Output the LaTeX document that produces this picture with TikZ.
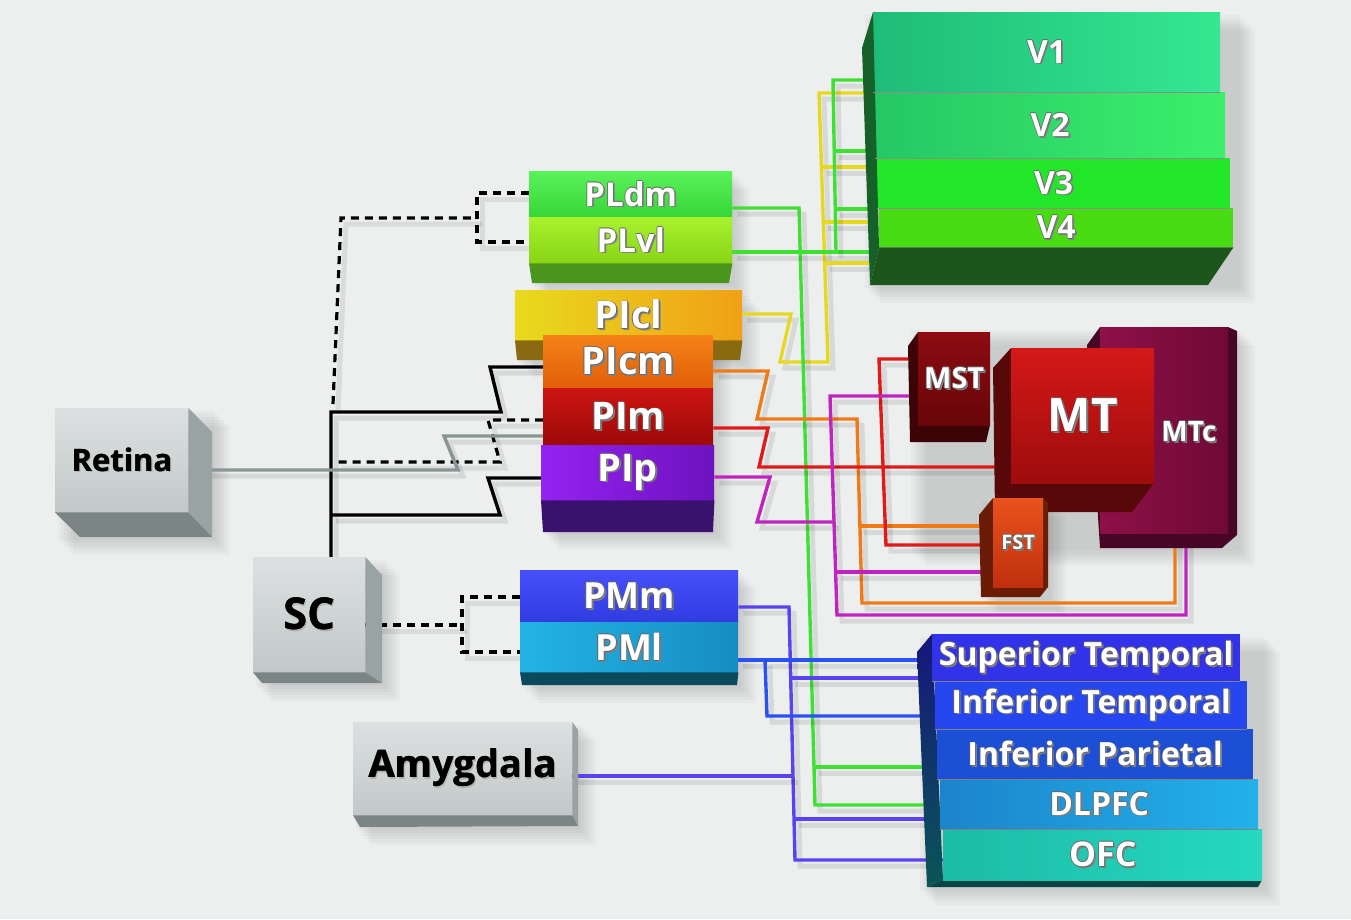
\documentclass[tikz,border=0pt]{standalone}
\usepackage{fontspec}
\setmainfont{Open Sans}
\usetikzlibrary{calc}

\pgfdeclarelayer{background}
\pgfdeclarelayer{wires}
\pgfsetlayers{background,wires,main}

% surface and box colours
\definecolor{bgcol}{HTML}{EDEFEF}
\definecolor{grayA}{HTML}{DCE0E0}
\definecolor{grayB}{HTML}{C2C8C8}
\definecolor{graySide}{HTML}{9AA3A3}
\definecolor{grayBot}{HTML}{7C8585}
\definecolor{pldmA}{HTML}{5AF25A}
\definecolor{pldmB}{HTML}{36D636}
\definecolor{plvlA}{HTML}{A8F22E}
\definecolor{plvlB}{HTML}{88D416}
\definecolor{plBot}{HTML}{4A961C}
\definecolor{piclA}{HTML}{E8DA1E}
\definecolor{piclB}{HTML}{F0A016}
\definecolor{piclBot}{HTML}{8A6A10}
\definecolor{picmA}{HTML}{F58218}
\definecolor{picmB}{HTML}{E05E08}
\definecolor{pimA}{HTML}{CC1412}
\definecolor{pimB}{HTML}{9C0A08}
\definecolor{pipA}{HTML}{9422F2}
\definecolor{pipB}{HTML}{6E12BE}
\definecolor{piBot}{HTML}{3A126E}
\definecolor{pmmA}{HTML}{4650FA}
\definecolor{pmmB}{HTML}{303CE2}
\definecolor{pmlA}{HTML}{22B4E4}
\definecolor{pmlB}{HTML}{168CC4}
\definecolor{pmBot}{HTML}{0A4A5C}
\definecolor{vOneA}{HTML}{1EBC78}
\definecolor{vOneB}{HTML}{34E890}
\definecolor{vTwoA}{HTML}{24C866}
\definecolor{vTwoB}{HTML}{3CF06A}
\definecolor{vThree}{HTML}{22E628}
\definecolor{vFour}{HTML}{4ADC12}
\definecolor{vLeft}{HTML}{16602A}
\definecolor{vBot}{HTML}{1C561C}
\definecolor{mstA}{HTML}{8C0C12}
\definecolor{mstB}{HTML}{680608}
\definecolor{mstDark}{HTML}{3C0406}
\definecolor{mtA}{HTML}{D41818}
\definecolor{mtB}{HTML}{9E0C0C}
\definecolor{mtDark}{HTML}{580808}
\definecolor{mtcA}{HTML}{8E1048}
\definecolor{mtcB}{HTML}{6E0A36}
\definecolor{mtcDark}{HTML}{480626}
\definecolor{fstA}{HTML}{E8521C}
\definecolor{fstB}{HTML}{C0300E}
\definecolor{fstDark}{HTML}{6A1C06}
\definecolor{stCol}{HTML}{3232E8}
\definecolor{itCol}{HTML}{2646F0}
\definecolor{ipCol}{HTML}{1C4ED6}
\definecolor{dlA}{HTML}{1C84CC}
\definecolor{dlB}{HTML}{22B2EA}
\definecolor{ofcA}{HTML}{1CBCA6}
\definecolor{ofcB}{HTML}{26D8C0}
\definecolor{ctxTop}{HTML}{16167C}
\definecolor{ctxBot}{HTML}{0A5656}
% wire colours
\definecolor{wgray}{HTML}{8A9494}
\definecolor{wgreen}{HTML}{3EE034}
\definecolor{wyellow}{HTML}{E6D820}
\definecolor{worange}{HTML}{F07A18}
\definecolor{wred}{HTML}{E01A18}
\definecolor{wmag}{HTML}{C024C0}
\definecolor{wviolet}{HTML}{5A42F0}
\definecolor{wblue}{HTML}{2A52F2}

\newcommand{\wtxt}[1]{%
  \rlap{\kern1.8pt\raisebox{-1.8pt}{\color{black!50}#1}}%
  \rlap{\kern-0.7pt\color{black!60}#1}%
  \rlap{\kern0.7pt\color{black!60}#1}%
  \rlap{\raisebox{0.7pt}{\color{black!60}#1}}%
  \rlap{\raisebox{-0.7pt}{\color{black!60}#1}}%
  {\color{white}#1}}
\newcommand{\ktxt}[1]{%
  \rlap{\kern1.6pt\raisebox{-1.6pt}{\color{black!30}#1}}%
  \rlap{\kern0.5pt\color{black}#1}%
  {\color{black}#1}}

\begin{document}
\begin{tikzpicture}[
    x=1pt, y=-1pt,
    face/.style={rectangle, anchor=north west, inner sep=0pt},
    fs/.style={font=\fontsize{#1}{#1}\selectfont\bfseries},
    wire/.style={draw=#1, line width=3.4pt,
      preaction={draw=black, opacity=0.09, line width=5pt, transform canvas={shift={(5pt,-6pt)}}}},
    dashwire/.style={draw=black, line width=3.2pt, dash pattern=on 8pt off 6pt,
      preaction={draw=black, opacity=0.08, line width=5pt, transform canvas={shift={(5pt,-6pt)}}}}
]
    \useasboundingbox (0,0) rectangle (1351,919);
    \begin{pgfonlayer}{background}
    \fill[bgcol] (0,0) rectangle (1351,919);
    % soft drop shadows under the blocks
    \foreach \xa/\ya/\xb/\yb in {55/408/212/537, 253/557/382/683, 353/722/578/827,
        529/171/732/283, 515/290/742/360, 541/335/714/532, 520/570/738/685,
        862/12/1237/285, 908/327/1237/548, 979/498/1048/597, 917/634/1262/887}
      \foreach \s in {3,6,...,18}
        \fill[black, opacity=0.025] (\xa+\s,\ya+\s) rectangle (\xb+\s,\yb+\s);
    \end{pgfonlayer}

    % Gray input boxes
    \node[face, top color=grayA, bottom color=grayB, minimum width=133pt, minimum height=104pt, fs=31] (Retina) at (55,408) {\ktxt{Retina}};
    \fill[graySide] (Retina.north east) -- (212,432) -- (212,537) -- (Retina.south east) -- cycle;
    \fill[grayBot] (Retina.south west) -- (Retina.south east) -- (212,537) -- (80,537) -- cycle;

    \node[face, top color=grayA, bottom color=grayB, minimum width=112pt, minimum height=115pt, fs=44] (SC) at (253,557) {\ktxt{SC}};
    \fill[graySide] (SC.north east) -- (382,575) -- (382,683) -- (SC.south east) -- cycle;
    \fill[grayBot] (SC.south west) -- (SC.south east) -- (382,683) -- (262,683) -- cycle;

    \node[face, top color=grayA, bottom color=grayB, minimum width=219pt, minimum height=93pt, fs=38] (Amyg) at (353,722) {\ktxt{Amygdala}};
    \fill[graySide] (Amyg.north east) -- (578,730) -- (578,826) -- (Amyg.south east) -- cycle;
    \fill[grayBot] (Amyg.south west) -- (Amyg.south east) -- (578,826) -- (360,827) -- cycle;

    % Pulvinar blocks
    \node[face, top color=pldmA, bottom color=pldmB, minimum width=203pt, minimum height=46pt, fs=33] (PLdm) at (529,171) {\wtxt{PLdm}};
    \node[face, top color=plvlA, bottom color=plvlB, minimum width=203pt, minimum height=46pt, fs=33] (PLvl) at (529,217) {\wtxt{PLvl}};
    \fill[plBot] (PLvl.south west) -- (PLvl.south east) -- (729,283) -- (532,283) -- cycle;

    \node[face, left color=piclA, right color=piclB, minimum width=227pt, minimum height=50pt, fs=38] (PIcl) at (515,290) {\wtxt{PIcl}};
    \fill[piclBot] (PIcl.south west) -- (PIcl.south east) -- (740,360) -- (517,360) -- cycle;
    \node[face, top color=picmA, bottom color=picmB, minimum width=170pt, minimum height=53pt, fs=38] (PIcm) at (543,335) {\wtxt{PIcm}};
    \node[face, top color=pimA, bottom color=pimB, minimum width=170pt, minimum height=57pt, fs=38] (PIm) at (543,388) {\wtxt{PIm}};
    \node[face, left color=pipA, right color=pipB, minimum width=173pt, minimum height=55pt, fs=38] (PIp) at (541,445) {\wtxt{PIp}};
    \fill[piBot] (PIp.south west) -- (PIp.south east) -- (713,532) -- (543,532) -- cycle;

    \node[face, top color=pmmA, bottom color=pmmB, minimum width=218pt, minimum height=52pt, fs=36] (PMm) at (520,570) {\wtxt{PMm}};
    \node[face, left color=pmlA, right color=pmlB, minimum width=218pt, minimum height=50pt, fs=36] (PMl) at (520,622) {\wtxt{PMl}};
    \fill[pmBot] (PMl.south west) -- (PMl.south east) -- (737,685) -- (522,685) -- cycle;

    % Visual areas
    \node[face, left color=vOneA, right color=vOneB, minimum width=347pt, minimum height=80pt, fs=32] (V1) at (873,12) {\wtxt{V1}};
    \node[face, left color=vTwoA, right color=vTwoB, minimum width=350pt, minimum height=66pt, fs=32] (V2) at (875,92) {\wtxt{V2}};
    \node[face, fill=vThree, minimum width=353pt, minimum height=50pt, fs=32] (V3) at (877,158) {\wtxt{V3}};
    \node[face, fill=vFour, minimum width=354pt, minimum height=39pt, fs=32] (V4) at (879,208) {\wtxt{V4}};
    \fill[vLeft] (V1.north west) -- (862,48) -- (870,285) -- (V4.south west) -- cycle;
    \fill[vBot] (V4.south west) -- (V4.south east) -- (1208,285) -- (870,285) -- cycle;
    \draw[black!45, line width=0.8pt] (V1.south west) -- (V1.south east) (V2.south west) -- (V2.south east) (V3.south west) -- (V3.south east);

    % Motion areas
    \fill[mtcDark] (1100,327) -- (1087,345) -- (1100,548) -- (1222,548) -- (1237,535) -- (1237,331) -- (1228,327) -- cycle;
    \node[face, left color=mtcA, right color=mtcB, minimum width=128pt, minimum height=206pt] (MTc) at (1100,327) {};
    \node[fs=28] (MTctext) at (1189,432) {\wtxt{MTc}};

    \fill[mtDark] (1011,348) -- (993,368) -- (995,512) -- (1132,512) -- (1154,483) -- (1011,483) -- cycle;
    \node[face, top color=mtA, bottom color=mtB, minimum width=143pt, minimum height=135pt, fs=46] (MT) at (1011,348) {\wtxt{MT}};

    \fill[mstDark] (918,332) -- (908,346) -- (910,442) -- (986,442) -- (990,425) -- (918,425) -- cycle;
    \node[face, top color=mstA, bottom color=mstB, minimum width=72pt, minimum height=93pt, fs=29] (MST) at (918,332) {\wtxt{MST}};

    \fill[fstDark] (993,498) -- (979,515) -- (981,597) -- (1040,597) -- (1048,587) -- (1048,503) -- (1043,498) -- cycle;
    \node[face, top color=fstA, bottom color=fstB, minimum width=50pt, minimum height=89pt, fs=20] (FST) at (993,498) {\wtxt{FST}};

    % Temporal, parietal and frontal areas
    \shade[top color=ctxTop, bottom color=ctxBot] (932,634) -- (917,652) -- (927,887) -- (943,880) -- cycle;
    \fill[ctxBot!80!black] (943,880) -- (1262,880) -- (1258,887) -- (927,887) -- cycle;
    \node[face, fill=stCol, minimum width=308pt, minimum height=47pt, fs=32] (ST) at (932,634) {\wtxt{Superior Temporal}};
    \node[face, fill=itCol, minimum width=312pt, minimum height=48pt, fs=32] (IT) at (935,681) {\wtxt{Inferior Temporal}};
    \node[face, fill=ipCol, minimum width=316pt, minimum height=50pt, fs=32] (IP) at (937,729) {\wtxt{Inferior Parietal}};
    \node[face, left color=dlA, right color=dlB, minimum width=318pt, minimum height=50pt, fs=32] (DLPFC) at (940,779) {\wtxt{DLPFC}};
    \node[face, left color=ofcA, right color=ofcB, minimum width=319pt, minimum height=51pt, fs=34] (OFC) at (943,829) {\wtxt{OFC}};
    \draw[black!50, line width=0.8pt] (ST.south west) -- (ST.south east) (IT.south west) -- (IT.south east) (IP.south west) -- (IP.south east) (DLPFC.south west) -- (DLPFC.south east);

    \begin{pgfonlayer}{wires}
    % SC projections
    \coordinate (scbend) at (331,412);
    \draw[wire=black] (SC.north -| scbend) -- (scbend) -- (501,412) -- (490,367) -- (PIcm.west |- 0,367);
    \draw[wire=black] (331,515) -- (500,515) -- (488,478) -- (PIp.west |- 0,478);
    \draw[dashwire] (333,404) -- (341,218) -- (477,218);
    \draw[dashwire] (PLdm.west |- 0,193) -| (477,242) -- (PLvl.west |- 0,242);
    \draw[dashwire] (PIm.west |- 0,420) -- (488,420) -- (500,462) -- (336,462);
    \draw[dashwire] (SC.east |- 0,625) -- (462,625);
    \draw[dashwire] (PMm.west |- 0,597) -| (462,652) -- (PMl.west |- 0,652);

    % Retina
    \draw[wire=wgray] (Retina.east |- 0,470) -- (458,470) -- (444,436) -- (PIm.west |- 0,436);

    % PIcl to V1-V4
    \draw[wire=wyellow] (PIcl.east |- 0,314) -- (791,314) -- (780,362) -- (828,362) -- (819,93) -- (V1.west |- 0,93);
    \draw[wire=wyellow] (821.5,167) -- (V2.west |- 0,167);
    \draw[wire=wyellow] (823.3,222) -- (V3.west |- 0,222);
    \draw[wire=wyellow] (824.7,263) -- (V4.west |- 0,263);

    % PLvl to V1-V4, PLdm to parietal/frontal
    \draw[wire=wgreen] (PLdm.east |- 0,208) -- (799,208) -- (815,805) -- (DLPFC.west |- 0,805);
    \draw[wire=wgreen] (814,767) -- (IP.west |- 0,767);
    \draw[wire=wgreen] (PLvl.east |- 0,252) -- (V4.west |- 0,252);
    \draw[wire=wgreen] (836,252) -- (833,80) -- (V1.west |- 0,80);
    \draw[wire=wgreen] (834,151) -- (V2.west |- 0,151);
    \draw[wire=wgreen] (835,209) -- (V3.west |- 0,209);

    % PIcm
    \draw[wire=worange] (PIcm.east |- 0,371) -- (768,371) -- (757,419) -- (857,419) -- (862,603) -- (1175,603) -- (MTc.south -| 1175,0);
    \draw[wire=worange] (859,526) -- (FST.west |- 0,526);

    % PIm
    \draw[wire=wred] (PIm.east |- 0,428) -- (768,428) -- (759,467) -- (MT.west |- 0,467);
    \draw[wire=wred] (MST.west |- 0,359) -- (879,359) -- (886,545) -- (FST.west |- 0,545);

    % PIp
    \draw[wire=wmag] (PIp.east |- 0,477) -- (770,477) -- (757,522) -- (834,522);
    \draw[wire=wmag] (MST.west |- 0,396) -- (830,396) -- (837,615) -- (1186,615) -- (MTc.south -| 1186,0);
    \draw[wire=wmag] (836,572) -- (FST.west |- 0,572);

    % PMm and Amygdala
    \draw[wire=wviolet] (PMm.east |- 0,607) -- (789,607) -- (795,860) -- (OFC.west |- 0,860);
    \draw[wire=wviolet] (790,678) -- (ST.west |- 0,678);
    \draw[wire=wviolet] (794,819) -- (DLPFC.west |- 0,819);
    \draw[wire=wviolet] (Amyg.east |- 0,776) -- (793,776);

    % PMl
    \draw[wire=wblue] (PMl.east |- 0,660) -- (ST.west |- 0,660);
    \draw[wire=wblue] (765,660) -- (767,716) -- (IT.west |- 0,716);
    \end{pgfonlayer}
\end{tikzpicture}
\end{document}
